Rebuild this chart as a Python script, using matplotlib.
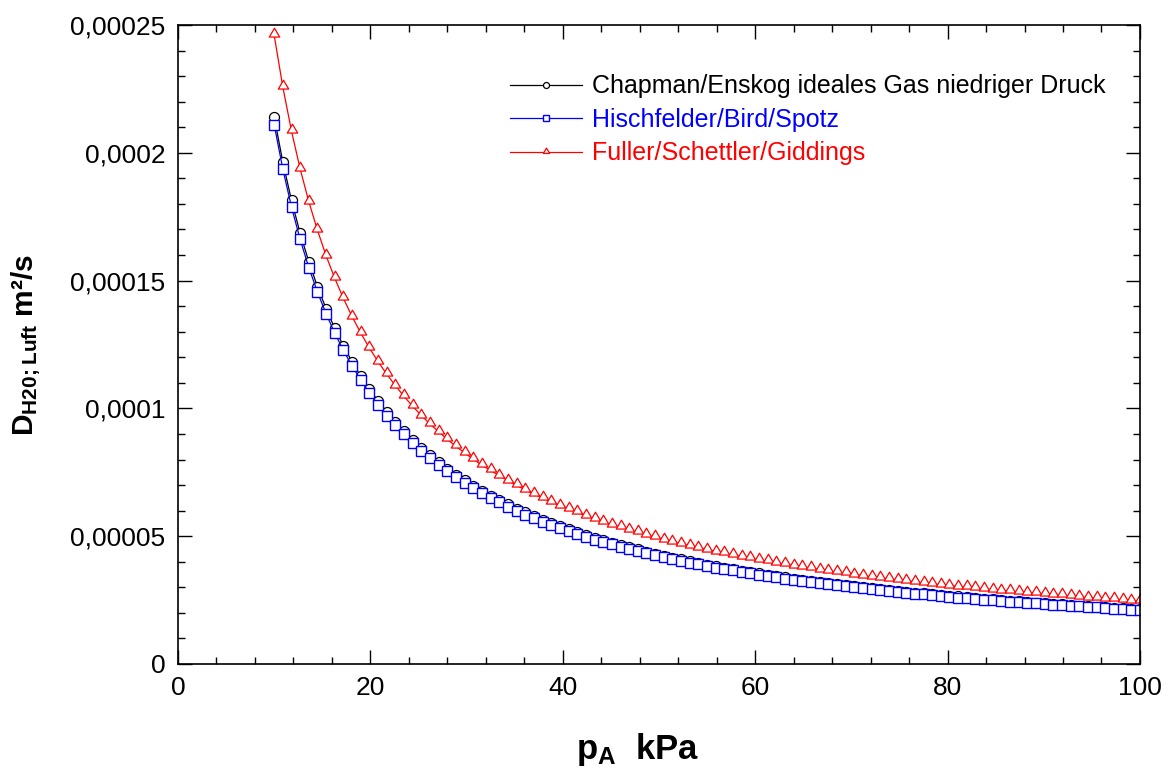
import matplotlib
matplotlib.use("Agg")
import matplotlib.pyplot as plt
import numpy as np
from matplotlib.ticker import MultipleLocator, FuncFormatter
from matplotlib.path import Path

plt.rcParams['font.family'] = ['Liberation Sans', 'DejaVu Sans']
plt.rcParams['mathtext.fontset'] = 'custom'
plt.rcParams['mathtext.rm'] = 'Liberation Sans'
plt.rcParams['mathtext.bf'] = 'Liberation Sans:bold'

# pressure p_A in kPa
p_kpa = [10.0, 10.9, 11.8, 12.7, 13.6, 14.5, 15.4, 16.3, 17.2, 18.1,
         19.0, 19.9, 20.8, 21.7, 22.6, 23.5, 24.4, 25.3, 26.2, 27.1,
         28.0, 28.9, 29.8, 30.7, 31.6, 32.5, 33.4, 34.3, 35.2, 36.1,
         37.0, 37.9, 38.8, 39.7, 40.6, 41.5, 42.4, 43.3, 44.2, 45.1,
         46.0, 46.9, 47.8, 48.7, 49.6, 50.5, 51.4, 52.3, 53.2, 54.1,
         55.0, 55.9, 56.8, 57.7, 58.6, 59.5, 60.4, 61.3, 62.2, 63.1,
         64.0, 64.9, 65.8, 66.7, 67.6, 68.5, 69.4, 70.3, 71.2, 72.1,
         73.0, 73.9, 74.8, 75.7, 76.6, 77.5, 78.4, 79.3, 80.2, 81.1,
         82.0, 82.9, 83.8, 84.7, 85.6, 86.5, 87.4, 88.3, 89.2, 90.1,
         91.0, 91.9, 92.8, 93.7, 94.6, 95.5, 96.4, 97.3, 98.2, 99.1,
         100.0]

# diffusion coefficients, in 1e-5 m²/s
chapman = [21.40, 19.63, 18.14, 16.85, 15.74, 14.76, 13.90, 13.13, 12.44, 11.82,
           11.26, 10.75, 10.29, 9.86, 9.47, 9.11, 8.77, 8.46, 8.17, 7.90,
           7.64, 7.40, 7.18, 6.97, 6.77, 6.58, 6.41, 6.24, 6.08, 5.93,
           5.78, 5.65, 5.52, 5.39, 5.27, 5.16, 5.05, 4.94, 4.84, 4.75,
           4.65, 4.56, 4.48, 4.39, 4.31, 4.24, 4.16, 4.09, 4.02, 3.96,
           3.89, 3.83, 3.77, 3.71, 3.65, 3.60, 3.54, 3.49, 3.44, 3.39,
           3.34, 3.30, 3.25, 3.21, 3.17, 3.12, 3.08, 3.04, 3.01, 2.97,
           2.93, 2.90, 2.86, 2.83, 2.79, 2.76, 2.73, 2.70, 2.67, 2.64,
           2.61, 2.58, 2.55, 2.53, 2.50, 2.47, 2.45, 2.42, 2.40, 2.38,
           2.35, 2.33, 2.31, 2.28, 2.26, 2.24, 2.22, 2.20, 2.18, 2.16,
           2.14]

hirschfelder = [21.10, 19.36, 17.88, 16.61, 15.51, 14.55, 13.70, 12.94, 12.27, 11.66,
                11.11, 10.60, 10.14, 9.72, 9.34, 8.98, 8.65, 8.34, 8.05, 7.79,
                7.54, 7.30, 7.08, 6.87, 6.68, 6.49, 6.32, 6.15, 5.99, 5.84,
                5.70, 5.57, 5.44, 5.31, 5.20, 5.08, 4.98, 4.87, 4.77, 4.68,
                4.59, 4.50, 4.41, 4.33, 4.25, 4.18, 4.11, 4.03, 3.97, 3.90,
                3.84, 3.77, 3.71, 3.66, 3.60, 3.55, 3.49, 3.44, 3.39, 3.34,
                3.30, 3.25, 3.21, 3.16, 3.12, 3.08, 3.04, 3.00, 2.96, 2.93,
                2.89, 2.86, 2.82, 2.79, 2.75, 2.72, 2.69, 2.66, 2.63, 2.60,
                2.57, 2.55, 2.52, 2.49, 2.46, 2.44, 2.41, 2.39, 2.37, 2.34,
                2.32, 2.30, 2.27, 2.25, 2.23, 2.21, 2.19, 2.17, 2.15, 2.13,
                2.11]

fuller = [24.60, 22.57, 20.85, 19.37, 18.09, 16.97, 15.97, 15.09, 14.30, 13.59,
          12.95, 12.36, 11.83, 11.34, 10.89, 10.47, 10.08, 9.72, 9.39, 9.08,
          8.79, 8.51, 8.26, 8.01, 7.78, 7.57, 7.37, 7.17, 6.99, 6.81,
          6.65, 6.49, 6.34, 6.20, 6.06, 5.93, 5.80, 5.68, 5.57, 5.45,
          5.35, 5.25, 5.15, 5.05, 4.96, 4.87, 4.79, 4.70, 4.62, 4.55,
          4.47, 4.40, 4.33, 4.26, 4.20, 4.13, 4.07, 4.01, 3.95, 3.90,
          3.84, 3.79, 3.74, 3.69, 3.64, 3.59, 3.54, 3.50, 3.46, 3.41,
          3.37, 3.33, 3.29, 3.25, 3.21, 3.17, 3.14, 3.10, 3.07, 3.03,
          3.00, 2.97, 2.94, 2.90, 2.87, 2.84, 2.81, 2.79, 2.76, 2.73,
          2.70, 2.68, 2.65, 2.63, 2.60, 2.58, 2.55, 2.53, 2.50, 2.48,
          2.46]

labels = ['Chapman/Enskog ideales Gas niedriger Druck',
          'Hischfelder/Bird/Spotz',
          'Fuller/Schettler/Giddings']
colors = ['black', 'blue', 'red']

# triangle whose base sits near the data point
tri = Path([(-1.0, -0.3), (1.0, -0.3), (0.0, 1.4), (-1.0, -0.3)],
           [Path.MOVETO, Path.LINETO, Path.LINETO, Path.CLOSEPOLY])

fig = plt.figure(figsize=(11.71, 7.70), dpi=100)
ax = fig.add_axes([0.152, 0.1377, 0.8215, 0.8298])

x = np.array(p_kpa)
ax.plot(x, np.array(chapman) * 1e-5, color=colors[0], lw=0.9, marker='o', ms=7.2,
        mfc='white', mec=colors[0], mew=0.9, label=labels[0])
ax.plot(x, np.array(hirschfelder) * 1e-5, color=colors[1], lw=0.9, marker='s', ms=7.0,
        mfc='white', mec=colors[1], mew=1.0, label=labels[1])
ax.plot(x, np.array(fuller) * 1e-5, color=colors[2], lw=0.9, marker=tri, ms=10.5,
        mfc='white', mec=colors[2], mew=0.9, label=labels[2])

ax.set_xlim(0, 100)
ax.set_ylim(0, 0.00025)
ax.xaxis.set_major_locator(MultipleLocator(20))
ax.xaxis.set_minor_locator(MultipleLocator(4))
ax.yaxis.set_major_locator(MultipleLocator(0.00005))
ax.yaxis.set_minor_locator(MultipleLocator(0.00001))


def comma_fmt(v, pos):
    s = f"{v:.5f}".rstrip('0').rstrip('.')
    return s.replace('.', ',')


ax.yaxis.set_major_formatter(FuncFormatter(comma_fmt))
ax.tick_params(which='both', direction='in', top=True, right=True, labelsize=19, width=1)
ax.tick_params(which='major', length=10, pad=9)
ax.tick_params(which='minor', length=5)
for sp in ax.spines.values():
    sp.set_linewidth(1.2)

ax.set_xlabel(r'$\mathbf{p_A}$  kPa', fontsize=25, fontweight='bold')
ax.xaxis.set_label_coords(0.478, -0.105)
ax.set_ylabel(r'$\mathbf{D_{H20;Luft}}$ m²/s', fontsize=21.5, fontweight='bold')
ax.yaxis.set_label_coords(-0.14, 0.5)

leg = ax.legend(loc='upper right', bbox_to_anchor=(0.988, 0.958), frameon=False,
                fontsize=18, handlelength=2.9, markerscale=0.6, numpoints=1,
                labelspacing=0.38, handletextpad=0.4)
for txt, c in zip(leg.get_texts(), colors):
    txt.set_color(c)

fig.savefig('out.png', dpi=100)
